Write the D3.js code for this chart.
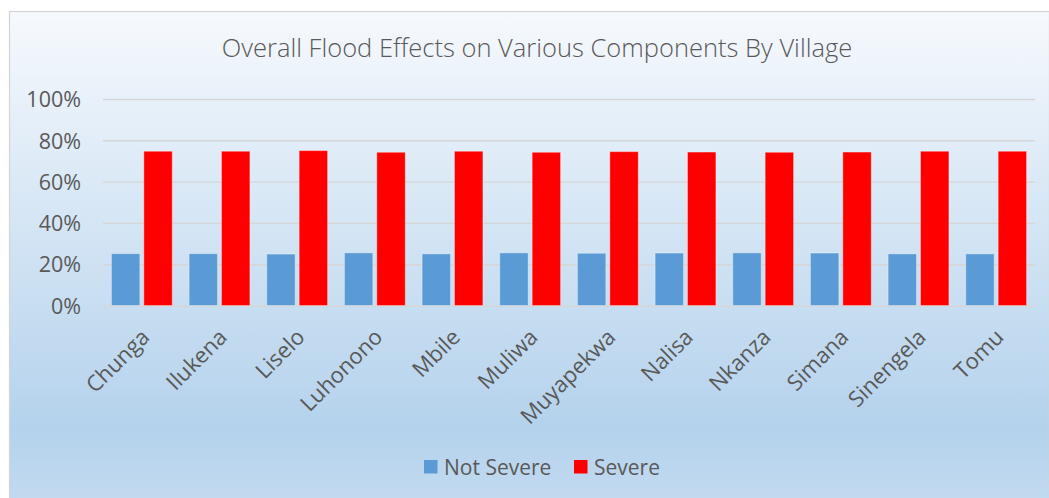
<!DOCTYPE html>
<html>
<head>
<meta charset="utf-8">
<script src="https://cdn.jsdelivr.net/npm/d3@7"></script>
<style>
  html, body { margin: 0; padding: 0; background: #ffffff; }
  svg { display: block; }
  text { font-family: "Open Sans", "Noto Sans", sans-serif; fill: #595959; }
</style>
</head>
<body>
<svg id="chart" width="1049" height="498"></svg>
<script>
// Villages along the x axis
const villages = ["Chunga", "Ilukena", "Liselo", "Luhonono", "Mbile", "Muliwa",
                  "Muyapekwa", "Nalisa", "Nkanza", "Simana", "Sinengela", "Tomu"];
// Share of components per village (%)
const notSevere = [25.1, 25.1, 24.9, 25.5, 25.0, 25.5, 25.3, 25.4, 25.5, 25.4, 25.0, 25.0];
const severe    = [74.7, 74.7, 75.0, 74.2, 74.7, 74.2, 74.5, 74.3, 74.2, 74.3, 74.7, 74.7];
const seriesNames = ["Not Severe", "Severe"];
const seriesColors = ["#5b9bd5", "#ff0000"];
const yTicks = [0, 20, 40, 60, 80, 100];
const titleText = "Overall Flood Effects on Various Components By Village";

const svg = d3.select("#chart");
const W = 1049, H = 498;

// Chart area background with soft blue gradient
const defs = svg.append("defs");
const grad = defs.append("linearGradient")
  .attr("id", "bg").attr("x1", 0).attr("y1", 0).attr("x2", 0).attr("y2", 1);
grad.append("stop").attr("offset", "0%").attr("stop-color", "#f6f9fd");
grad.append("stop").attr("offset", "84%").attr("stop-color", "#b4d2ec");
grad.append("stop").attr("offset", "100%").attr("stop-color", "#c4dbf0");

svg.append("rect")
  .attr("x", 9.5).attr("y", 11.5)
  .attr("width", W - 9).attr("height", H)
  .attr("fill", "url(#bg)")
  .attr("stroke", "#d4d4d4").attr("stroke-width", 1.2);

// Title
svg.append("text")
  .attr("x", 537).attr("y", 57)
  .attr("text-anchor", "middle")
  .style("font-size", "25.5px")
  .style("font-weight", 300)
  .attr("fill", "#505050")
  .text(titleText);

// Scales
const margin = { left: 103, right: 1035, top: 99, bottom: 305.5 };
const x = d3.scaleBand().domain(villages).range([margin.left, margin.right]).paddingInner(0).paddingOuter(0);
const y = d3.scaleLinear().domain([0, 100]).range([margin.bottom, margin.top]);

// Gridlines
const grid = svg.append("g")
  .attr("transform", `translate(${margin.left},0)`)
  .call(d3.axisLeft(y).tickValues(yTicks).tickSize(-(margin.right - margin.left)).tickFormat(""));
grid.select(".domain").remove();
grid.selectAll("line").attr("stroke", "#d6d6d6").attr("stroke-width", 1.4);

// Y axis labels
const yAxis = svg.append("g")
  .attr("transform", `translate(81,0)`)
  .call(d3.axisLeft(y).tickValues(yTicks).tickSize(0).tickPadding(0).tickFormat(d => d + "%"));
yAxis.select(".domain").remove();
yAxis.selectAll("text")
  .style("font-size", "21.5px")
  .attr("fill", "#595959")
  .attr("dy", "0.36em");

// Bars
const barW = 28.4, gap = 4;
const groupOffset = (x.bandwidth() - (2 * barW + gap)) / 2;
const data = villages.map((v, i) => ({ v, vals: [notSevere[i], severe[i]] }));

const groups = svg.append("g").selectAll("g")
  .data(data).join("g")
  .attr("transform", d => `translate(${x(d.v) + groupOffset},0)`);

groups.selectAll("rect")
  .data(d => d.vals.map((val, k) => ({ val, k })))
  .join("rect")
  .attr("x", d => d.k * (barW + gap))
  .attr("y", d => y(d.val))
  .attr("width", barW)
  .attr("height", d => y(0) - y(d.val))
  .attr("fill", d => seriesColors[d.k])
  .attr("stroke", "rgba(255,255,255,0.35)")
  .attr("stroke-width", 1);

// Category labels (rotated)
const xAxis = svg.append("g")
  .attr("transform", `translate(0,${margin.bottom})`)
  .call(d3.axisBottom(x).tickSize(0).tickPadding(0));
xAxis.select(".domain").remove();
xAxis.selectAll("text")
  .style("font-size", "22px")
  .attr("fill", "#595959")
  .attr("text-anchor", "end")
  .attr("dy", null)
  .attr("y", 0)
  .attr("transform", "translate(9,33) rotate(-45)");

// Legend
const legend = svg.append("g");
const legendItems = [
  { name: seriesNames[0], color: seriesColors[0], x: 424 },
  { name: seriesNames[1], color: seriesColors[1], x: 574 }
];
legendItems.forEach(it => {
  legend.append("rect")
    .attr("x", it.x).attr("y", 460)
    .attr("width", 13.5).attr("height", 13.5)
    .attr("fill", it.color);
  legend.append("text")
    .attr("x", it.x + 20).attr("y", 474.5)
    .style("font-size", "21px")
    .text(it.name);
});
</script>
</body>
</html>
